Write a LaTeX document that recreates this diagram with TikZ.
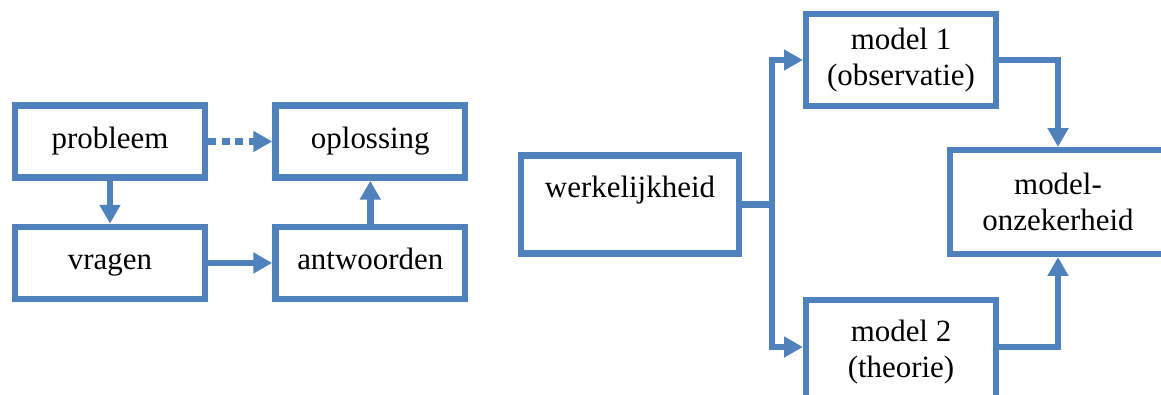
\documentclass[tikz,border=0pt]{standalone}
\usepackage{fontspec}
\setmainfont{Liberation Serif}
\usepackage{tikz}
\usetikzlibrary{arrows.meta,positioning}
\definecolor{boxblue}{RGB}{79,129,189}
\tikzset{
  block/.style={draw=boxblue,line width=4.7pt,align=center,minimum width=4.74cm,
    minimum height=1.8cm,inner sep=2pt,font=\fontsize{22}{25.6}\selectfont},
  oneline/.style={text height=15.4pt,text depth=5.5pt},
  link/.style={draw=boxblue,line width=4.7pt},
  arrow/.style={link,-{Triangle[length=0.47cm,width=0.5cm]}}
}

\begin{document}
\begin{tikzpicture}[x=0.025cm,y=-0.025cm,node distance=1.07cm and 1.6cm]
  \useasboundingbox (0,0) rectangle (1161,394);
  \clip (0,0) rectangle (1161,394);

  % probleem -> oplossing
  \node[block,oneline] (probleem) at (110,141.5) {probleem};
  \node[block,oneline,right=of probleem] (oplossing) {oplossing};
  \node[block,oneline,below=of probleem] (vragen) {vragen};
  \node[block,oneline,right=of vragen] (antwoorden) {antwoorden};

  \draw[arrow,dash pattern=on 0.2cm off 0.14cm] (probleem) -- (oplossing);
  \draw[arrow] (probleem) -- (vragen);
  \draw[arrow] (vragen) -- (antwoorden);
  \draw[arrow] (antwoorden) -- (oplossing);

  % werkelijkheid -> twee modellen -> modelonzekerheid
  \node[block,minimum width=5.44cm,minimum height=2.46cm] (werkelijkheid) at (630,204.5) {werkelijkheid\\\mbox{}};
  \node[block,minimum height=2.29cm] (model1) at (901,60) {model 1\\(observatie)};
  \node[block,minimum height=2.6cm] (model2) at (901,352) {model 2\\(theorie)};
  \node[block,minimum width=5.39cm,minimum height=2.59cm] (onzekerheid) at (1058,202) {model-\\onzekerheid};
  \coordinate (split) at (772,204.5);

  \draw[link] (werkelijkheid) -- (split);
  \draw[arrow] (split) |- (model1);
  \draw[arrow] (split) |- ([yshift=0.125cm]model2.west);
  \draw[arrow] (model1) -| (onzekerheid);
  \draw[arrow] ([yshift=0.125cm]model2.east) -| (onzekerheid);
\end{tikzpicture}
\end{document}
